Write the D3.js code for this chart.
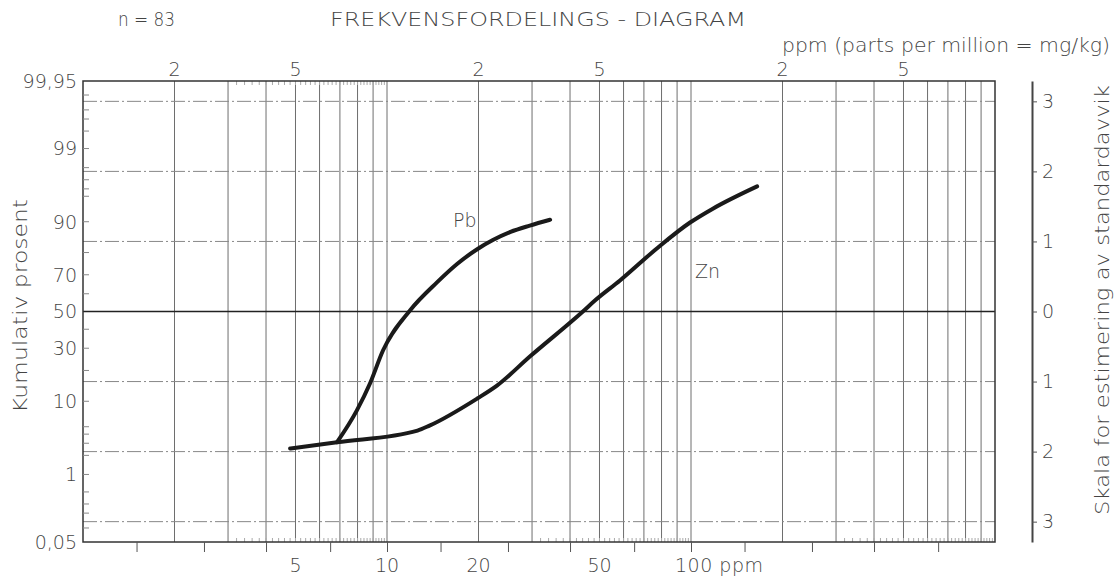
<!DOCTYPE html>
<html>
<head>
<meta charset="utf-8">
<script src="https://cdn.jsdelivr.net/npm/d3@7"></script>
<style>
  body { margin: 0; background: #fff; }
  svg text { font-family: "DejaVu Sans", "Liberation Sans", sans-serif; font-weight: 200; fill: #444; }
</style>
</head>
<body>
<svg id="chart" width="1114" height="577"></svg>
<script>
// kurver lest av diagrammet (ppm, kumulativ prosent)
const pbPpm = [6.85, 7.96, 8.79, 9.7, 11.9, 14.6, 17.0, 19.8, 22.3, 25.5, 29.5, 34.4];
const pbPct = [3.1, 7.9, 15.2, 28.9, 50.6, 66.1, 75.1, 81.3, 84.6, 87.2, 89.0, 90.5];
const znPpm = [4.8, 6.85, 12.6, 13.8, 19.8, 23.0, 29.5, 44.1, 48.3, 58.4, 77.2, 99.3, 118, 165];
const znPct = [2.52, 3.1, 4.46, 5.17, 10.7, 14.5, 26.0, 50, 56.2, 67.1, 81.6, 89.8, 92.9, 96.3];

// akser
const leftLabels = [0.05, 1, 10, 30, 50, 70, 90, 99, 99.95];
const leftMinor = [0.1, 0.2, 0.3, 0.5, 1, 2, 3, 4, 5, 10, 20, 30, 40, 60, 70, 80, 90, 95, 96, 97, 98, 99, 99.5, 99.7, 99.8, 99.9];
const sdTicks = [-3, -2, -1, 0, 1, 2, 3];
const bottomTicks = [1.5, 2.5, 4, 6.5, 10, 15, 25, 40, 65, 100, 150, 250, 400, 650];
const bottomLabels = [5, 10, 20, 50];
const topLabels = [2, 5, 20, 50, 200, 500];

const plotL = 83, plotR = 995, plotT = 81, plotB = 542;
const fs = "19px";

// invers normalfordeling (Acklam)
function probit(p) {
  const a = [-3.969683028665376e+01, 2.209460984245205e+02, -2.759285104469687e+02, 1.383577518672690e+02, -3.066479806614716e+01, 2.506628277459239e+00];
  const b = [-5.447609879822406e+01, 1.615858368580409e+02, -1.556989798598866e+02, 6.680131188771972e+01, -1.328068155288572e+01];
  const c = [-7.784894002430293e-03, -3.223964580411365e-01, -2.400758277161838e+00, -2.549732539343734e+00, 4.374664141464968e+00, 2.938163982698783e+00];
  const d = [7.784695709041462e-03, 3.224671290700398e-01, 2.445134137142996e+00, 3.754408661907416e+00];
  const pl = 0.02425;
  if (p < pl) {
    const q = Math.sqrt(-2 * Math.log(p));
    return (((((c[0]*q+c[1])*q+c[2])*q+c[3])*q+c[4])*q+c[5]) / ((((d[0]*q+d[1])*q+d[2])*q+d[3])*q+1);
  }
  if (p > 1 - pl) {
    const q = Math.sqrt(-2 * Math.log(1 - p));
    return -(((((c[0]*q+c[1])*q+c[2])*q+c[3])*q+c[4])*q+c[5]) / ((((d[0]*q+d[1])*q+d[2])*q+d[3])*q+1);
  }
  const q = p - 0.5, r = q * q;
  return (((((a[0]*r+a[1])*r+a[2])*r+a[3])*r+a[4])*r+a[5])*q / (((((b[0]*r+b[1])*r+b[2])*r+b[3])*r+b[4])*r+1);
}

const x = d3.scaleLog().domain([1, 1000]).range([plotL, plotR]);
const zMax = probit(0.9995);
const z = d3.scaleLinear().domain([-zMax, zMax]).range([plotB, plotT]);
const y = p => z(probit(p / 100));

const svg = d3.select("#chart");

// vertikale rutenettlinjer
svg.append("g")
  .selectAll("line")
  .data(x.ticks().filter(v => v > 1 && v < 1000))
  .join("line")
  .attr("x1", d => x(d)).attr("x2", d => x(d))
  .attr("y1", plotT).attr("y2", plotB)
  .attr("stroke", "#6e6e6e")
  .attr("stroke-width", 1);

// små streker langs topp og bunn
const fine = [];
[1, 10, 100].forEach(k => {
  for (let m = 3.2; m < 9.9; m += 0.2) fine.push(+(m * k).toFixed(2));
});
svg.append("g")
  .selectAll("line")
  .data(fine)
  .join("line")
  .attr("x1", d => x(d)).attr("x2", d => x(d))
  .attr("y1", plotB).attr("y2", plotB - 4)
  .attr("stroke", "#aaa");
svg.append("g")
  .selectAll("line")
  .data(fine.filter(v => v < 10))
  .join("line")
  .attr("x1", d => x(d)).attr("x2", d => x(d))
  .attr("y1", plotT).attr("y2", plotT + 4)
  .attr("stroke", "#aaa");

// horisontale linjer ved hele standardavvik
svg.append("g")
  .selectAll("line")
  .data(sdTicks.filter(d => d !== 0))
  .join("line")
  .attr("x1", plotL).attr("x2", plotR)
  .attr("y1", d => z(d)).attr("y2", d => z(d))
  .attr("stroke", "#888")
  .attr("stroke-dasharray", "14,3,2,3");

svg.append("line")
  .attr("x1", plotL).attr("x2", plotR)
  .attr("y1", z(0)).attr("y2", z(0))
  .attr("stroke", "#222")
  .attr("stroke-width", 1.3);

// ramme
svg.append("rect")
  .attr("x", plotL).attr("y", plotT)
  .attr("width", plotR - plotL).attr("height", plotB - plotT)
  .attr("fill", "none")
  .attr("stroke", "#333")
  .attr("stroke-width", 1.5);

// venstre akse: små streker og tall
svg.append("g")
  .selectAll("line")
  .data(leftMinor)
  .join("line")
  .attr("x1", plotL).attr("x2", plotL + 6)
  .attr("y1", d => y(d)).attr("y2", d => y(d))
  .attr("stroke", "#888");

svg.append("g")
  .selectAll("text")
  .data(leftLabels)
  .join("text")
  .attr("x", 77)
  .attr("y", d => y(d))
  .attr("dy", "0.36em")
  .attr("text-anchor", "end")
  .style("font-size", fs)
  .text(d => String(d).replace(".", ","));

svg.append("text")
  .attr("transform", "translate(27,306) rotate(-90)")
  .attr("text-anchor", "middle")
  .attr("textLength", 214)
  .attr("lengthAdjust", "spacingAndGlyphs")
  .style("font-size", fs)
  .text("Kumulativ prosent");

// bunnakse
const xAxis = svg.append("g")
  .attr("transform", `translate(0,${plotB})`)
  .call(d3.axisBottom(x).tickValues(bottomTicks).tickSize(10).tickFormat(""));
xAxis.select(".domain").remove();
xAxis.selectAll("line").attr("stroke", "#555");

svg.append("g")
  .selectAll("text")
  .data(bottomLabels)
  .join("text")
  .attr("x", d => x(d))
  .attr("y", 572)
  .attr("text-anchor", "middle")
  .style("font-size", fs)
  .text(d => d);

svg.append("text")
  .attr("x", x(100) - 16)
  .attr("y", 572)
  .attr("textLength", 88)
  .style("font-size", fs)
  .text("100 ppm");

// toppetiketter
svg.append("g")
  .selectAll("text")
  .data(topLabels)
  .join("text")
  .attr("x", d => x(d))
  .attr("y", 76)
  .attr("text-anchor", "middle")
  .style("font-size", fs)
  .text(d => String(d)[0]);

// høyre akse: standardavvik
const zAxis = svg.append("g")
  .attr("transform", "translate(1032,0)")
  .call(d3.axisRight(z).tickValues(sdTicks).tickSize(5).tickSizeOuter(0).tickFormat(d => Math.abs(d)));
zAxis.select(".domain").attr("stroke", "#444").attr("stroke-width", 2);
zAxis.selectAll(".tick line").attr("stroke", "#555");
zAxis.selectAll(".tick text")
  .attr("x", 10)
  .style("font-size", fs)
  .style("font-family", "'DejaVu Sans', 'Liberation Sans', sans-serif")
  .style("font-weight", 200)
  .attr("fill", "#444");

svg.append("text")
  .attr("transform", "translate(1109,300) rotate(-90)")
  .attr("text-anchor", "middle")
  .attr("textLength", 430)
  .attr("lengthAdjust", "spacingAndGlyphs")
  .style("font-size", fs)
  .text("Skala for estimering av standardavvik");

// overskrifter
svg.append("text")
  .attr("x", 118).attr("y", 26)
  .attr("textLength", 57)
  .attr("lengthAdjust", "spacingAndGlyphs")
  .style("font-size", fs)
  .text("n = 83");

svg.append("text")
  .attr("x", 330).attr("y", 26)
  .attr("textLength", 416)
  .attr("lengthAdjust", "spacingAndGlyphs")
  .style("font-size", fs)
  .text("FREKVENSFORDELINGS - DIAGRAM");

svg.append("text")
  .attr("x", 782).attr("y", 52)
  .attr("textLength", 328)
  .attr("lengthAdjust", "spacingAndGlyphs")
  .style("font-size", fs)
  .text("ppm (parts per million = mg/kg)");

// kurvene
const line = d3.line()
  .x(d => x(d[0]))
  .y(d => y(d[1]))
  .curve(d3.curveMonotoneX);

const series = [
  { name: "Zn", pts: d3.zip(znPpm, znPct) },
  { name: "Pb", pts: d3.zip(pbPpm, pbPct) }
];

svg.append("g")
  .selectAll("path")
  .data(series)
  .join("path")
  .attr("d", d => line(d.pts))
  .attr("fill", "none")
  .attr("stroke", "#1a1a1a")
  .attr("stroke-width", 4)
  .attr("stroke-linecap", "round")
  .attr("stroke-linejoin", "round");

svg.append("text")
  .attr("x", x(16.5)).attr("y", y(90.3))
  .attr("dy", "0.36em")
  .style("font-size", fs)
  .text("Pb");

svg.append("text")
  .attr("x", x(103)).attr("y", y(72))
  .attr("dy", "0.36em")
  .style("font-size", fs)
  .text("Zn");
</script>
</body>
</html>
